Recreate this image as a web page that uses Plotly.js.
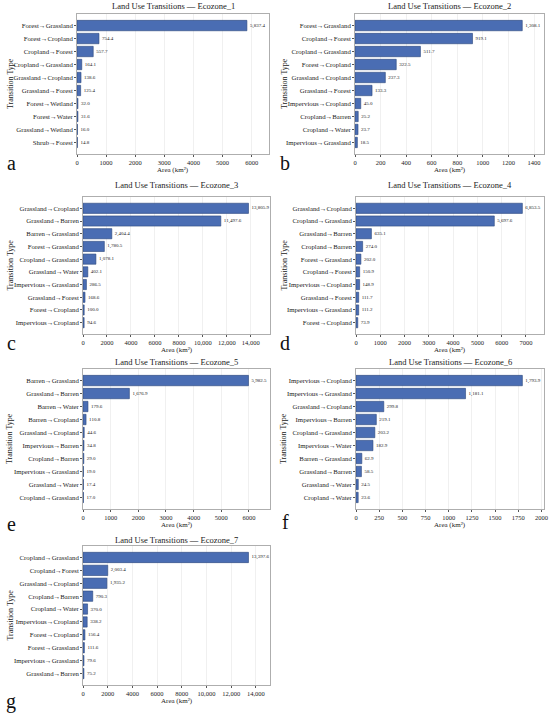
<!DOCTYPE html>
<html>
<head>
<meta charset="utf-8">
<script src="https://cdn.plot.ly/plotly-3.0.1.min.js"></script>
<style>html,body{margin:0;padding:0;background:#fff;}#chart{width:550px;height:713px;}</style>
</head>
<body>
<div id="chart"></div>
<script>
// ---- Data ----
const zone1Labels = ["Forest→Grassland","Forest→Cropland","Cropland→Forest","Cropland→Grassland","Grassland→Cropland","Grassland→Forest","Forest→Wetland","Forest→Water","Grassland→Wetland","Shrub→Forest"];
const zone1Values = [5837.4,754.4,557.7,164.1,138.6,125.4,32.0,31.6,16.0,14.8];

const zone2Labels = ["Forest→Grassland","Cropland→Forest","Cropland→Grassland","Forest→Cropland","Grassland→Cropland","Grassland→Forest","Impervious→Cropland","Cropland→Barren","Cropland→Water","Impervious→Grassland"];
const zone2Values = [1308.1,919.1,511.7,322.5,237.3,133.3,45.0,25.2,23.7,18.5];

const zone3Labels = ["Grassland→Cropland","Grassland→Barren","Barren→Grassland","Forest→Grassland","Cropland→Grassland","Grassland→Water","Impervious→Grassland","Grassland→Forest","Forest→Cropland","Impervious→Cropland"];
const zone3Values = [13805.9,11497.6,2404.4,1780.5,1078.1,402.1,286.5,168.6,100.0,94.6];

const zone4Labels = ["Grassland→Cropland","Cropland→Grassland","Grassland→Barren","Cropland→Barren","Forest→Grassland","Cropland→Forest","Impervious→Cropland","Grassland→Forest","Impervious→Grassland","Forest→Cropland"];
const zone4Values = [6853.5,5697.6,635.1,274.0,202.0,150.9,148.9,111.7,111.2,73.9];

const zone5Labels = ["Barren→Grassland","Grassland→Barren","Barren→Water","Barren→Cropland","Grassland→Cropland","Impervious→Barren","Cropland→Barren","Impervious→Grassland","Grassland→Water","Cropland→Grassland"];
const zone5Values = [5982.5,1676.9,179.6,110.8,44.6,34.8,29.0,19.0,17.4,17.0];

const zone6Labels = ["Impervious→Cropland","Impervious→Grassland","Grassland→Cropland","Impervious→Barren","Cropland→Grassland","Impervious→Water","Barren→Grassland","Grassland→Barren","Grassland→Water","Cropland→Water"];
const zone6Values = [1793.9,1181.1,299.8,219.1,203.2,182.9,62.9,58.5,24.5,23.6];

const zone7Labels = ["Cropland→Grassland","Cropland→Forest","Grassland→Cropland","Cropland→Barren","Cropland→Water","Impervious→Cropland","Forest→Cropland","Forest→Grassland","Impervious→Grassland","Grassland→Barren"];
const zone7Values = [13397.6,2003.4,1935.2,790.3,370.0,338.2,156.4,111.6,79.6,75.2];

const zoneNames = ["Ecozone_1","Ecozone_2","Ecozone_3","Ecozone_4","Ecozone_5","Ecozone_6","Ecozone_7"];
const panelLetters = ["a","b","c","d","e","f","g"];
const tickSteps = [1000,200,2000,1000,1000,250,2000];

// ---- Layout geometry (pixels) ----
const W = 550, H = 713;
const FONT = "Liberation Serif, Times New Roman, serif";
const boxes = [
  {l:77, r:269, t:14, b:154, titleY:6, letterX:11, letterY:163, ytX:10},
  {l:355, r:544, t:14, b:154, titleY:6, letterX:285, letterY:163, ytX:284},
  {l:83, r:270, t:197, b:334, titleY:185, letterX:11, letterY:343, ytX:10},
  {l:356, r:544, t:197, b:334, titleY:185, letterX:285, letterY:343, ytX:284},
  {l:83, r:270, t:369, b:509, titleY:362, letterX:11, letterY:524, ytX:10},
  {l:356, r:544, t:369, b:509, titleY:362, letterX:285, letterY:522, ytX:284},
  {l:83, r:270, t:546, b:685, titleY:540, letterX:11, letterY:701, ytX:10}
];

const allLabels = [zone1Labels,zone2Labels,zone3Labels,zone4Labels,zone5Labels,zone6Labels,zone7Labels];
const allValues = [zone1Values,zone2Values,zone3Values,zone4Values,zone5Values,zone6Values,zone7Values];

const traces = [];
const layout = {
  width: W, height: H,
  margin: {l:0, r:0, t:0, b:0},
  paper_bgcolor: "#ffffff",
  plot_bgcolor: "#ffffff",
  showlegend: false,
  font: {family: FONT, color: "#222"},
  annotations: []
};

const px = x => x / W;
const py = y => 1 - y / H;

for (let i = 0; i < 7; i++) {
  const n = i + 1;
  const xa = "x" + (n === 1 ? "" : n);
  const ya = "y" + (n === 1 ? "" : n);
  const bx = boxes[i];
  const maxV = Math.max(...allValues[i]);
  traces.push({
    type: "bar",
    orientation: "h",
    x: allValues[i],
    y: allLabels[i],
    xaxis: xa, yaxis: ya,
    width: 0.8,
    marker: {color: "#4a6db3", line: {color: "#2a477c", width: 0.6}},
    text: allValues[i].map(v => v.toLocaleString("en-US", {minimumFractionDigits:1, maximumFractionDigits:1})),
    textposition: "outside",
    textfont: {size: 5, family: FONT, color: "#222"},
    constraintext: "none",
    cliponaxis: false,
    hoverinfo: "x+y"
  });
  const xKey = "xaxis" + (n === 1 ? "" : n);
  const yKey = "yaxis" + (n === 1 ? "" : n);
  layout[xKey] = {
    domain: [px(bx.l), px(bx.r)],
    anchor: ya,
    range: [0, maxV * 1.13],
    dtick: tickSteps[i],
    tick0: 0,
    exponentformat: "none",
    showgrid: true,
    gridcolor: "#e6e6e6",
    gridwidth: 0.6,
    zeroline: false,
    showline: true,
    linecolor: "#9a9a9a",
    linewidth: 0.8,
    mirror: true,
    ticks: "outside",
    ticklen: 2,
    tickcolor: "#555",
    ticklabelstandoff: 0,
    tickfont: {size: 6.5, family: FONT, color: "#222"}
  };
  layout[yKey] = {
    domain: [py(bx.b), py(bx.t)],
    anchor: xa,
    type: "category",
    categoryorder: "array",
    categoryarray: allLabels[i],
    range: [9.89, -0.89],
    showgrid: false,
    zeroline: false,
    showline: true,
    linecolor: "#9a9a9a",
    linewidth: 0.8,
    mirror: true,
    ticks: "outside",
    ticklen: 2,
    tickcolor: "#555",
    tickfont: {size: 6.8, family: FONT, color: "#222"}
  };
  const cx = (bx.l + bx.r) / 2;
  // title
  layout.annotations.push({
    text: "Land Use Transitions — " + zoneNames[i],
    xref: "paper", yref: "paper",
    x: px(cx), y: py(bx.titleY),
    xanchor: "center", yanchor: "middle",
    showarrow: false,
    font: {size: 8.5, family: FONT, color: "#222"}
  });
  // x-axis title
  layout.annotations.push({
    text: "Area (km²)",
    xref: "paper", yref: "paper",
    x: px(cx), y: py(bx.b + 15.5),
    xanchor: "center", yanchor: "middle",
    showarrow: false,
    font: {size: 7, family: FONT, color: "#222"}
  });
  // y-axis title
  layout.annotations.push({
    text: "Transition Type",
    xref: "paper", yref: "paper",
    x: px(bx.ytX), y: py((bx.t + bx.b) / 2),
    xanchor: "center", yanchor: "middle",
    textangle: -90,
    showarrow: false,
    font: {size: 8, family: FONT, color: "#222"}
  });
  // panel letter
  layout.annotations.push({
    text: panelLetters[i],
    xref: "paper", yref: "paper",
    x: px(bx.letterX), y: py(bx.letterY),
    xanchor: "center", yanchor: "middle",
    showarrow: false,
    font: {size: 20, family: FONT, color: "#111"}
  });
}

Plotly.newPlot("chart", traces, layout, {staticPlot: true, displayModeBar: false});
</script>
</body>
</html>
